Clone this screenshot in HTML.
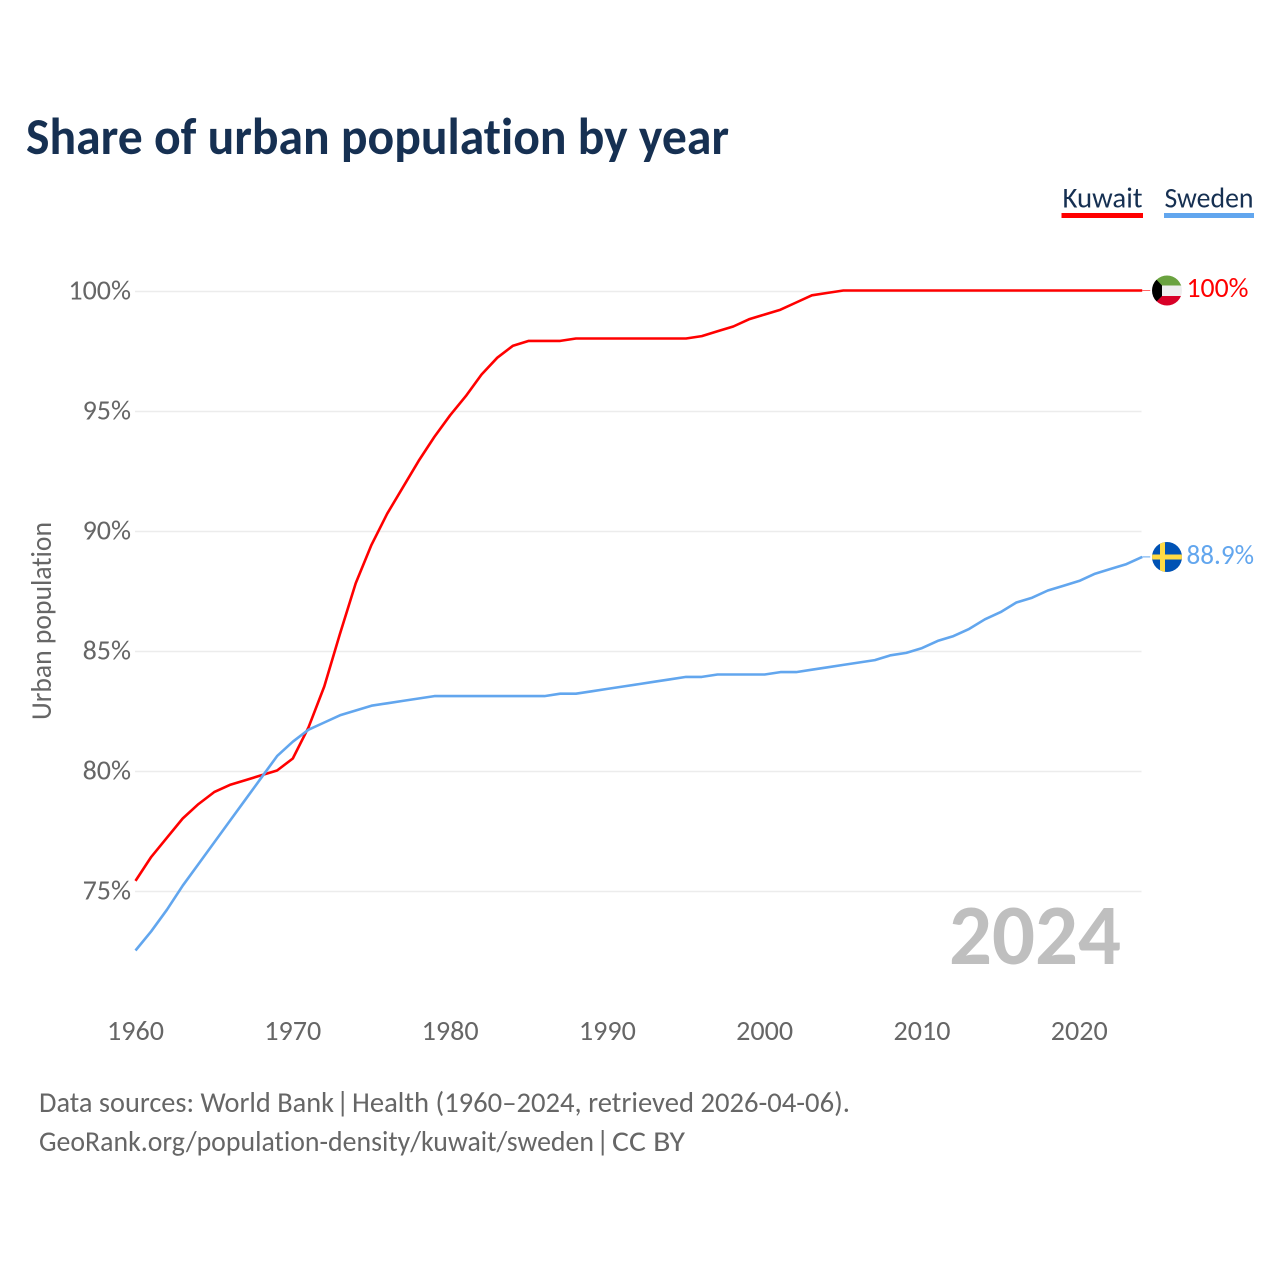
<!DOCTYPE html>
<html lang="en">
<head>
<meta charset="utf-8">
<title>Share of urban population by year</title>
<style>
html,body{margin:0;padding:0;background:#fff;width:1280px;height:1280px;overflow:hidden}
svg{display:block;font-family:"Carlito","Lato","Liberation Sans",sans-serif;font-variant-ligatures:none}
</style>
</head>
<body>
<svg id="chart" width="1280" height="1280" viewBox="0 0 1280 1280" xmlns="http://www.w3.org/2000/svg">
  <defs>
    <clipPath id="kw-clip"><circle cx="1167" cy="290.5" r="15"/></clipPath>
    <clipPath id="se-clip"><circle cx="1167" cy="557" r="15"/></clipPath>
  </defs>
  <rect width="1280" height="1280" fill="#fff"/>
  <text x="26" y="154" font-size="52" font-weight="700" fill="#163052" textLength="703" lengthAdjust="spacingAndGlyphs">Share of urban population by year</text>

  <g>
    <g>
      <text x="1062.5" y="207.5" font-size="29" fill="#163052" textLength="80" lengthAdjust="spacingAndGlyphs">Kuwait</text>
      <rect x="1061.5" y="213" width="81.5" height="5" fill="#ff0000"/>
    </g>
    <g>
      <text x="1164.5" y="207.5" font-size="29" fill="#163052" textLength="89" lengthAdjust="spacingAndGlyphs">Sweden</text>
      <rect x="1164" y="213" width="90" height="5" fill="#62a6ee"/>
    </g>
  </g>

  <g id="grid"></g>
  <g id="yticks"></g>
  <g id="xticks"></g>
  <text transform="translate(51,621) rotate(-90)" text-anchor="middle" font-size="29" fill="#666" textLength="198" lengthAdjust="spacingAndGlyphs">Urban population</text>

  <text x="949" y="964" font-size="86" font-weight="700" fill="#bfbfbf" textLength="172" lengthAdjust="spacingAndGlyphs">2024</text>

  <polyline id="line-kuwait" fill="none" stroke="#ff0000" stroke-width="2.6" stroke-linejoin="round"/>
  <polyline id="line-sweden" fill="none" stroke="#62a6ee" stroke-width="2.6" stroke-linejoin="round"/>
  <line id="conn-kuwait" stroke="#ff0000" stroke-width="1" opacity="0.6"/>
  <line id="conn-sweden" stroke="#62a6ee" stroke-width="1"/>

  <g clip-path="url(#kw-clip)">
    <rect x="1152" y="275" width="30" height="11" fill="#6aa23f"/>
    <rect x="1152" y="285.5" width="30" height="10.5" fill="#eeeeee"/>
    <rect x="1152" y="296" width="30" height="11" fill="#d80027"/>
    <polygon points="1152,275 1162,285.5 1162,296 1152,306" fill="#000"/>
  </g>
  <g clip-path="url(#se-clip)">
    <rect x="1152" y="542" width="30" height="30" fill="#0052b4"/>
    <rect x="1160" y="542" width="5" height="30" fill="#ffda44"/>
    <rect x="1152" y="554.5" width="30" height="5" fill="#ffda44"/>
  </g>

  <text id="value-kuwait" x="1186.5" y="297" font-size="28" fill="#ff0000" textLength="62" lengthAdjust="spacingAndGlyphs">100%</text>
  <text id="value-sweden" x="1186.5" y="564" font-size="28" fill="#62a6ee" textLength="67.5" lengthAdjust="spacingAndGlyphs">88.9%</text>

  <g>
    <g>
      <text x="39" y="1112" font-size="29" fill="#666" textLength="295" lengthAdjust="spacingAndGlyphs">Data sources: World Bank</text>
      <text x="336" y="1112" font-size="29" fill="#666">|</text>
      <text x="352" y="1112" font-size="29" fill="#666" textLength="498" lengthAdjust="spacingAndGlyphs">Health (1960–2024, retrieved 2026-04-06).</text>
    </g>
    <g>
      <text x="39" y="1151" font-size="29" fill="#666" textLength="555" lengthAdjust="spacingAndGlyphs">GeoRank.org/population-density/kuwait/sweden</text>
      <text x="596" y="1151" font-size="29" fill="#666">|</text>
      <text x="612" y="1151" font-size="29" fill="#666" textLength="73" lengthAdjust="spacingAndGlyphs">CC BY</text>
    </g>
  </g>
</svg>
<script>
const startYear = 1960;
const yTickValues = [100, 95, 90, 85, 80, 75];
const xTickValues = [1960, 1970, 1980, 1990, 2000, 2010, 2020];
const kuwaitValues = [75.4,76.4,77.2,78.0,78.6,79.1,79.4,79.6,79.8,80.0,80.5,81.8,83.5,85.7,87.8,89.4,90.7,91.8,92.9,93.9,94.8,95.6,96.5,97.2,97.7,97.9,97.9,97.9,98.0,98.0,98.0,98.0,98.0,98.0,98.0,98.0,98.1,98.3,98.5,98.8,99.0,99.2,99.5,99.8,99.9,100,100,100,100,100,100,100,100,100,100,100,100,100,100,100,100,100,100,100,100];
const swedenValues = [72.5,73.3,74.2,75.2,76.1,77.0,77.9,78.8,79.7,80.6,81.2,81.7,82.0,82.3,82.5,82.7,82.8,82.9,83.0,83.1,83.1,83.1,83.1,83.1,83.1,83.1,83.1,83.2,83.2,83.3,83.4,83.5,83.6,83.7,83.8,83.9,83.9,84.0,84.0,84.0,84.0,84.1,84.1,84.2,84.3,84.4,84.5,84.6,84.8,84.9,85.1,85.4,85.6,85.9,86.3,86.6,87.0,87.2,87.5,87.7,87.9,88.2,88.4,88.6,88.9];

const SVG_NS = 'http://www.w3.org/2000/svg';
function xScale(year){ return 135.5 + (year - 1960) * 15.73; }
function yGrid(v){ return 291.5 + (100 - v) * 24; }
function yLine(v){ return yGrid(v) - 1; }

const gridG = document.getElementById('grid');
const yG = document.getElementById('yticks');
const xG = document.getElementById('xticks');

yTickValues.forEach(function(v){
  const l = document.createElementNS(SVG_NS, 'line');
  l.setAttribute('x1', 135);
  l.setAttribute('x2', 1141.5);
  l.setAttribute('y1', yGrid(v));
  l.setAttribute('y2', yGrid(v));
  l.setAttribute('stroke', '#ececec');
  l.setAttribute('stroke-width', '1.4');
  
  
  gridG.appendChild(l);

  const t = document.createElementNS(SVG_NS, 'text');
  t.setAttribute('x', 131);
  t.setAttribute('y', yGrid(v) + 8);
  t.setAttribute('text-anchor', 'end');
  t.setAttribute('font-size', '28');
  t.setAttribute('fill', '#666');
  t.textContent = v + '%';
  
  
  yG.appendChild(t);
});

xTickValues.forEach(function(year){
  const t = document.createElementNS(SVG_NS, 'text');
  t.setAttribute('x', xScale(year));
  t.setAttribute('y', 1040);
  t.setAttribute('text-anchor', 'middle');
  t.setAttribute('font-size', '28');
  t.setAttribute('fill', '#666');
  t.setAttribute('textLength', '57');
  t.setAttribute('lengthAdjust', 'spacingAndGlyphs');
  t.textContent = year;
  
  
  xG.appendChild(t);
});

function points(values){
  return values.map(function(v, i){
    return xScale(startYear + i).toFixed(2) + ',' + yLine(v).toFixed(2);
  }).join(' ');
}
document.getElementById('line-kuwait').setAttribute('points', points(kuwaitValues));
document.getElementById('line-sweden').setAttribute('points', points(swedenValues));

function connector(id, values){
  const v = values[values.length - 1];
  const el = document.getElementById(id);
  const x = xScale(startYear + values.length - 1);
  el.setAttribute('x1', x);
  el.setAttribute('x2', x + 8);
  el.setAttribute('y1', yLine(v));
  el.setAttribute('y2', yLine(v));
}
connector('conn-kuwait', kuwaitValues);
connector('conn-sweden', swedenValues);
</script>
</body>
</html>
